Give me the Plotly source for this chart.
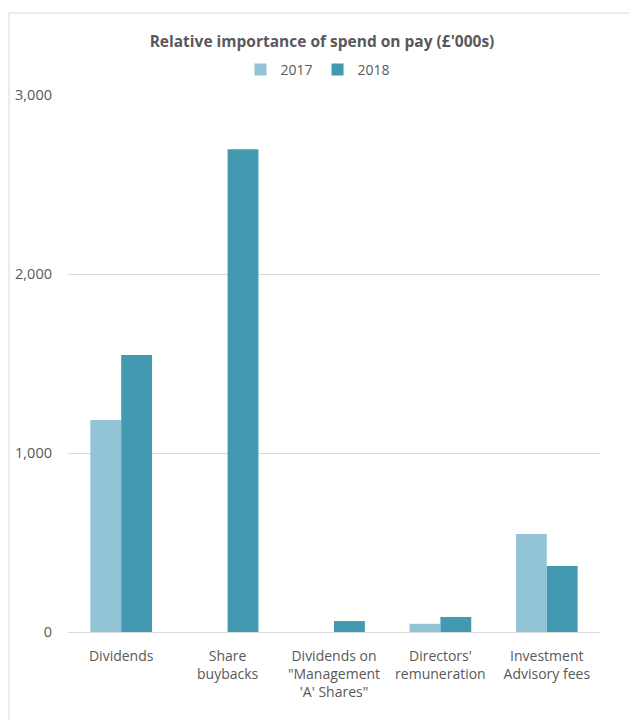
import plotly.graph_objects as go

categories = ["Dividends", "Share<br>buybacks", "Dividends on<br>\"Management<br>'A' Shares\"",
              "Directors'<br>remuneration", "Investment<br>Advisory fees"]
values_2017 = [1185, 0, 0, 46, 547]
values_2018 = [1547, 2697, 61, 84, 369]
tick_vals = [0, 1000, 2000, 3000]
tick_text = ["0", "1,000", "2,000", "3,000"]

W, H = 629, 720
L, R, T, B = 68, 29, 95, 88
pw = W - L - R
ph = H - T - B

fig = go.Figure()
fig.add_trace(go.Bar(name="2017", x=categories, y=values_2017, marker_color="#93C4D5",
                     marker_line_width=0))
fig.add_trace(go.Bar(name="2018", x=categories, y=values_2018, marker_color="#4399B0",
                     marker_line_width=0))

fig.update_layout(
    width=W, height=H,
    margin=dict(l=L, r=R, t=T, b=B),
    paper_bgcolor="white", plot_bgcolor="white",
    font=dict(family="Open Sans, Liberation Sans, sans-serif", color="#595959", size=14),
    title=dict(text="<b>Relative importance of spend on pay (£'000s)</b>",
               x=(322) / W, xanchor="center", y=1 - 42 / H, yanchor="middle",
               font=dict(size=15.5, color="#595959")),
    legend=dict(orientation="h", x=(318 - L) / pw, xanchor="center",
                y=1 + (T - 70) / ph, yanchor="middle", font=dict(size=14, color="#595959"),
                itemwidth=30, traceorder="normal"),
    barmode="group", bargap=0.42, bargroupgap=0,
    xaxis=dict(showgrid=False, showline=False, ticks="", ticklabelstandoff=14,
               tickfont=dict(size=14, color="#595959")),
    yaxis=dict(range=[0, 3000], tickvals=tick_vals, ticktext=tick_text,
               showgrid=True, gridcolor="#D9D9D9", gridwidth=1, zeroline=True,
               zerolinecolor="#D9D9D9", zerolinewidth=1, showline=False,
               ticklabelstandoff=15, tickfont=dict(size=14.5, color="#595959")),
    showlegend=True,
)

# outer chart border (top and left edges visible)
fig.add_shape(type="line", xref="paper", yref="paper",
              x0=(9 - L) / pw, x1=(W + 5 - L) / pw, y0=1 + (T - 13) / ph, y1=1 + (T - 13) / ph,
              line=dict(color="#D9D9D9", width=1))
fig.add_shape(type="line", xref="paper", yref="paper",
              x0=(9 - L) / pw, x1=(9 - L) / pw, y0=1 + (T - 13) / ph, y1=-(B + 5) / ph,
              line=dict(color="#D9D9D9", width=1))

fig.write_html("out.html")
